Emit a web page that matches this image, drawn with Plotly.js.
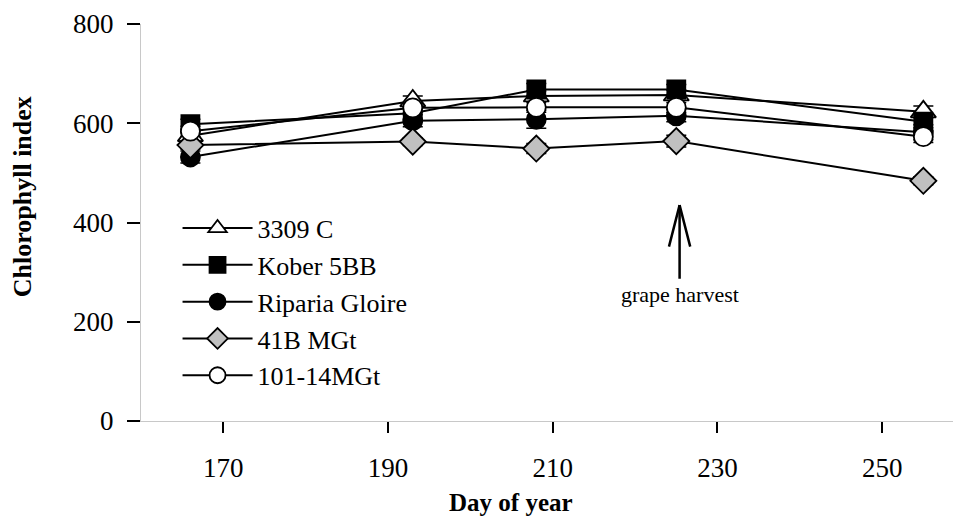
<!DOCTYPE html>
<html>
<head>
<meta charset="utf-8">
<script src="https://cdn.plot.ly/plotly-3.0.1.min.js"></script>
<style>html,body{margin:0;padding:0;background:#fff;}#chart{width:953px;height:521px;}</style>
</head>
<body>
<div id="chart"></div>
<script>
// Day of year of each measurement
const days = [166, 193, 208, 225, 255];

// Chlorophyll index per rootstock
const s3309C      = [575, 645, 655, 657, 623];
const kober5BB    = [598, 620, 668, 668, 603];
const ripariaGl   = [532, 605, 608, 615, 582];
const b41MGt      = [556, 563, 549, 564, 484];
const m101_14MGt  = [584, 631, 632, 632, 573];

// Standard errors
const err3309C    = [8, 10, 10, 10, 12];
const errKober    = [10, 12, 12, 10, 12];
const errRiparia  = [12, 12, 18, 12, 15];
const err41B      = [8, 8, 10, 12, 8];
const err101      = [10, 10, 10, 10, 12];

const seriesNames = ['3309 C', 'Kober 5BB', 'Riparia Gloire', '41B MGt', '101-14MGt'];
const xTicks = [170, 190, 210, 230, 250];
const yTicks = [0, 200, 400, 600, 800];

const harvestDay = 225.4;

const FONT = '"Liberation Serif", "Times New Roman", serif';

function mk(name, y, err, symbol, fill, size) {
  return {
    type: 'scatter', mode: 'lines+markers', name: name, x: days, y: y,
    legendgroup: name,
    line: {color: '#000', width: 2},
    marker: {symbol: symbol, size: size, color: fill, line: {color: '#000', width: 1.8}},
    error_y: {type: 'data', array: err, visible: true, color: '#000', thickness: 1.5, width: 10}
  };
}

const traces = [
  mk(seriesNames[0], s3309C, err3309C, 'triangle-up', '#ffffff', 22),
  mk(seriesNames[1], kober5BB, errKober, 'square', '#000000', 18),
  mk(seriesNames[2], ripariaGl, errRiparia, 'circle', '#000000', 19),
  mk(seriesNames[3], b41MGt, err41B, 'diamond', '#c0c0c0', 20),
  mk(seriesNames[4], m101_14MGt, err101, 'circle', '#ffffff', 19)
];

const arrowCommon = {x: harvestDay, y: 435, xref: 'x', yref: 'y', text: '', showarrow: true,
  arrowhead: 0, arrowwidth: 2.5, arrowcolor: '#000', axref: 'pixel', ayref: 'pixel'};

const layout = {
  width: 953, height: 521,
  margin: {l: 141, r: 0, t: 24, b: 100, pad: 0},
  paper_bgcolor: '#fff', plot_bgcolor: '#fff',
  font: {family: FONT, color: '#000', size: 25},
  showlegend: true,
  legend: {
    x: 0.045, y: 0.545, xanchor: 'left', yanchor: 'top',
    bgcolor: 'rgba(0,0,0,0)', borderwidth: 0,
    font: {family: FONT, size: 26, color: '#000'},
    tracegroupgap: 3, itemwidth: 70, traceorder: 'normal'
  },
  xaxis: {
    range: [160, 258.6], tickvals: xTicks, ticktext: xTicks.map(String),
    showgrid: false, zeroline: false, showline: true, linecolor: '#c8c8c8', linewidth: 1,
    ticks: 'outside', ticklen: 11, tickwidth: 2, tickcolor: '#000',
    ticklabelstandoff: 12,
    tickfont: {family: FONT, size: 27, color: '#000'}
  },
  yaxis: {
    range: [0, 800], tickvals: yTicks, ticktext: yTicks.map(String),
    showgrid: false, zeroline: false, showline: true, linecolor: '#c8c8c8', linewidth: 1,
    ticks: 'outside', ticklen: 13, tickwidth: 2, tickcolor: '#000',
    ticklabelstandoff: 8,
    tickfont: {family: FONT, size: 27, color: '#000'}
  },
  annotations: [
    Object.assign({}, arrowCommon, {ax: 0, ay: 75}),
    Object.assign({}, arrowCommon, {ax: -11, ay: 43}),
    Object.assign({}, arrowCommon, {ax: 11, ay: 43}),
    {x: harvestDay, y: 255, xref: 'x', yref: 'y', text: 'grape harvest', showarrow: false,
     xanchor: 'center', yanchor: 'middle', font: {family: FONT, size: 22, color: '#000'}},
    {x: -0.1466, y: 0.566, xref: 'paper', yref: 'paper', text: '<b>Chlorophyll index</b>',
     textangle: -90, showarrow: false, xanchor: 'center', yanchor: 'middle',
     font: {family: FONT, size: 26, color: '#000'}},
    {x: 0.4557, y: -0.205, xref: 'paper', yref: 'paper', text: '<b>Day of year</b>',
     showarrow: false, xanchor: 'center', yanchor: 'middle',
     font: {family: FONT, size: 25, color: '#000'}}
  ]
};

Plotly.newPlot('chart', traces, layout, {displayModeBar: false, staticPlot: true});
</script>
</body>
</html>
